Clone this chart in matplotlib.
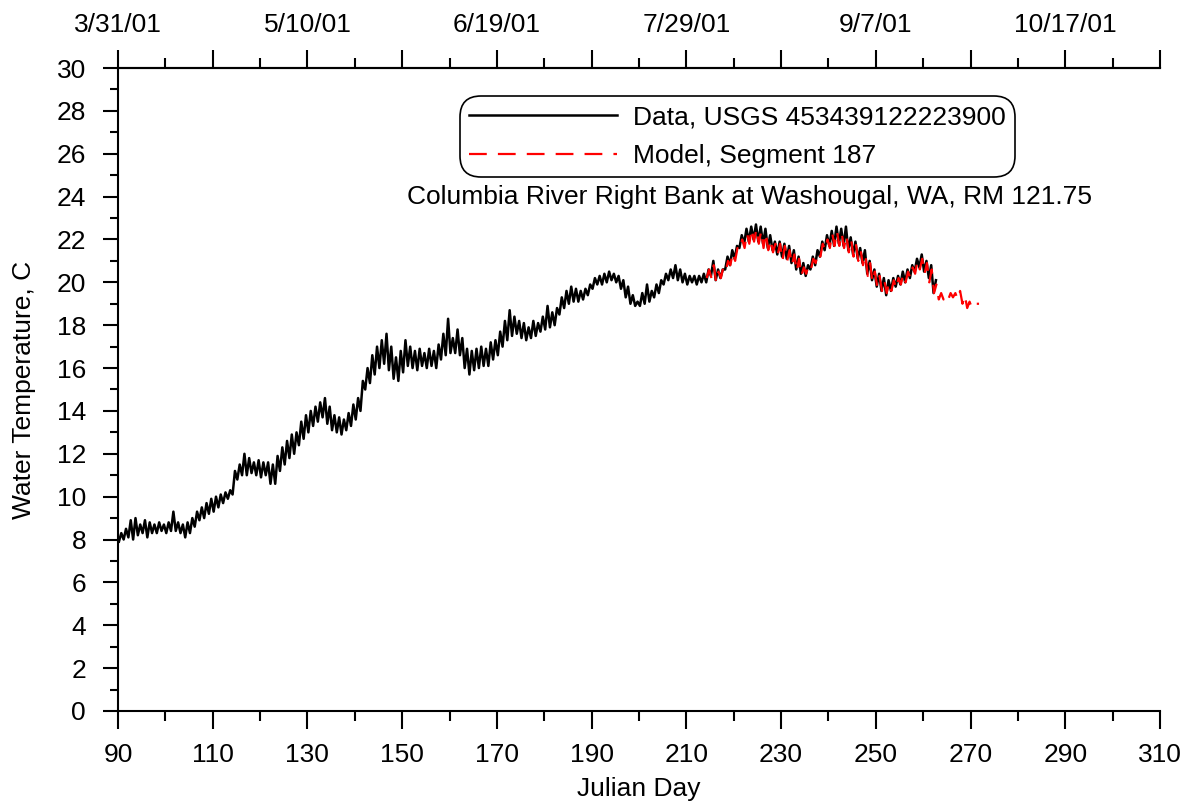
import numpy as np
import matplotlib
matplotlib.use("Agg")
import matplotlib.pyplot as plt
from matplotlib.ticker import FixedLocator, MultipleLocator

plt.rcParams['font.family'] = ['Liberation Sans', 'DejaVu Sans']

# observed data, daily low / high (Julian day 90 .. 262)
data_start = 90
data_lo = [7.9, 8.0, 8.1, 8.0, 8.2, 8.3, 8.1, 8.3, 8.3, 8.4,
           8.3, 8.4, 8.4, 8.3, 8.1, 8.3, 8.6, 8.9, 9.0, 9.2,
           9.3, 9.5, 9.7, 9.9, 10.1, 10.8, 11.0, 11.0, 11.1, 11.0,
           10.9, 11.0, 10.6, 10.6, 11.2, 11.5, 11.8, 12.0, 12.4, 12.7,
           13.0, 13.3, 13.5, 13.7, 13.4, 13.1, 13.0, 12.9, 13.1, 13.3,
           13.6, 14.0, 15.0, 15.3, 15.7, 16.0, 16.2, 15.9, 15.5, 15.4,
           15.8, 16.1, 16.0, 15.9, 16.1, 16.0, 16.1, 16.0, 16.4, 16.6,
           16.7, 16.7, 16.6, 16.0, 15.7, 15.9, 16.0, 16.1, 16.1, 16.4,
           16.6, 17.0, 17.3, 17.5, 17.6, 17.4, 17.3, 17.4, 17.5, 17.7,
           17.8, 17.9, 18.0, 18.5, 18.8, 19.0, 19.1, 19.1, 19.2, 19.4,
           19.7, 19.9, 19.9, 20.0, 20.1, 20.0, 19.7, 19.3, 19.0, 18.9,
           18.9, 19.0, 19.1, 19.3, 19.5, 19.9, 20.1, 20.2, 20.1, 20.0,
           19.9, 20.0, 19.9, 20.0, 20.0, 20.3, 20.1, 20.2, 20.6, 20.8,
           21.1, 21.6, 21.8, 21.9, 22.0, 21.9, 21.8, 21.6, 21.5, 21.3,
           21.2, 21.1, 20.9, 20.6, 20.4, 20.3, 20.6, 20.8, 21.2, 21.5,
           21.7, 21.7, 21.8, 21.7, 21.5, 21.3, 21.1, 20.9, 20.4, 20.1,
           19.8, 19.6, 19.4, 19.6, 19.8, 19.9, 20.0, 20.2, 20.5, 20.7,
           20.5, 20.2, 19.5]
data_hi = [8.3, 8.5, 8.9, 9.0, 8.7, 8.9, 8.8, 8.7, 8.8, 8.7,
           8.8, 9.3, 8.8, 8.7, 8.8, 9.0, 9.3, 9.5, 9.7, 9.9,
           10.0, 10.1, 10.2, 10.3, 11.2, 11.5, 12.0, 11.8, 11.6, 11.7,
           11.6, 11.6, 11.5, 11.9, 12.3, 12.6, 12.9, 13.0, 13.5, 13.8,
           14.0, 14.2, 14.4, 14.6, 14.2, 13.8, 13.7, 13.6, 13.9, 14.3,
           14.6, 15.4, 16.0, 16.6, 17.0, 17.3, 17.6, 17.0, 16.5, 16.8,
           17.3, 17.0, 16.8, 16.9, 16.7, 16.9, 16.8, 17.1, 17.6, 18.3,
           17.4, 17.8, 17.4, 16.9, 16.8, 16.9, 17.0, 16.9, 17.2, 17.3,
           17.7, 18.2, 18.7, 18.4, 18.2, 18.1, 17.9, 18.2, 18.1, 18.4,
           18.9, 18.6, 18.8, 19.3, 19.6, 19.8, 19.7, 19.6, 19.7, 19.9,
           20.2, 20.3, 20.4, 20.5, 20.4, 20.3, 20.1, 19.8, 19.4, 19.1,
           19.5, 19.9, 19.6, 19.9, 20.1, 20.4, 20.6, 20.8, 20.6, 20.4,
           20.3, 20.3, 20.3, 20.4, 20.6, 21.0, 20.6, 20.6, 21.2, 21.5,
           21.7, 22.2, 22.5, 22.6, 22.7, 22.6, 22.5, 22.2, 21.9, 21.9,
           21.8, 21.7, 21.5, 21.2, 20.9, 20.8, 21.2, 21.5, 21.9, 22.2,
           22.4, 22.6, 22.5, 22.6, 22.1, 21.9, 21.6, 21.5, 21.0, 20.6,
           20.4, 20.2, 20.1, 20.2, 20.3, 20.5, 20.6, 20.8, 21.1, 21.3,
           21.0, 20.8, 20.1]

# model, segment 187, daily low / high (Julian day 214 .. 271)
model_start = 214
model_lo = [20.2, 20.2, 20.0, 20.2, 20.5, 20.8,
            21.0, 21.5, 21.6, 21.8, 21.9, 21.8, 21.6, 21.5, 21.4, 21.3,
            21.0, 21.0, 20.8, 20.5, 20.3, 20.4, 20.6, 20.9, 21.2, 21.5,
            21.6, 21.7, 21.7, 21.6, 21.4, 21.2, 21.0, 20.8, 20.3, 20.0,
            19.8, 19.6, 19.5, 19.6, 19.7, 19.9, 20.0, 20.2, 20.4, 20.6,
            20.4, 20.0, 19.5, 19.2, 19.2, 19.2, 19.3, 19.2, 19.0, 18.8,
            18.8, 19.0]
model_hi = [20.6, 20.8, 20.5, 20.7, 21.0, 21.4,
            21.6, 22.0, 22.3, 22.5, 22.5, 22.4, 22.3, 22.0, 21.8, 21.8,
            21.7, 21.5, 21.3, 21.1, 20.7, 20.8, 21.1, 21.4, 21.8, 22.0,
            22.3, 22.4, 22.3, 22.2, 22.0, 21.8, 21.5, 21.3, 20.9, 20.5,
            20.3, 20.1, 20.0, 20.1, 20.2, 20.4, 20.5, 20.7, 21.0, 21.1,
            20.9, 20.6, 19.9, 19.5, 19.4, 19.5, 19.5, 19.6, 19.4, 19.1,
            19.0, 19.0]

bottom_ticks = [90, 110, 130, 150, 170, 190, 210, 230, 250, 270, 290, 310]
minor_ticks = [100, 120, 140, 160, 180, 200, 220, 240, 260, 280, 300]
top_labels = ['3/31/01', '', '5/10/01', '', '6/19/01', '', '7/29/01', '',
              '9/7/01', '', '10/17/01', '']

FS = 19


def zigzag(start, lo, hi, lo_off, hi_off):
    d = start + np.arange(len(lo))
    t = np.column_stack([d + lo_off, d + hi_off]).ravel()
    v = np.column_stack([lo, hi]).ravel()
    return t, v


fig = plt.figure(figsize=(11.94, 8.06), dpi=100)
ax = fig.add_axes([0.0988, 0.1179, 0.8727, 0.7977])

t, v = zigzag(data_start, data_lo, data_hi, 0.2, 0.7)
ax.plot(t, v, color='black', lw=1.8, label='Data, USGS 453439122223900')
t, v = zigzag(model_start, model_lo, model_hi, 0.3, 0.8)
ax.plot(t, v, color='red', lw=1.6, linestyle=(0, (8, 5)), label='Model, Segment 187')

ax.set_xlim(90, 310)
ax.set_ylim(0, 30)
ax.xaxis.set_major_locator(FixedLocator(bottom_ticks))
ax.xaxis.set_minor_locator(FixedLocator(minor_ticks))
ax.yaxis.set_major_locator(MultipleLocator(2))
ax.yaxis.set_minor_locator(MultipleLocator(1))
ax.spines['right'].set_visible(False)
for s in ['left', 'bottom', 'top']:
    ax.spines[s].set_linewidth(1.5)

ax.tick_params(axis='x', which='major', direction='out', length=13, width=1.5,
               labelsize=FS, pad=10)
ax.tick_params(axis='x', which='minor', direction='out', length=7, width=1.5)
ax.tick_params(axis='y', which='major', direction='out', length=11, width=1.5,
               labelsize=FS, pad=12)
ax.tick_params(axis='y', which='minor', direction='out', length=5.5, width=1.5)

top = ax.secondary_xaxis('top')
top.set_xticks(bottom_ticks, top_labels)
top.xaxis.set_minor_locator(FixedLocator(minor_ticks))
top.spines['top'].set_linewidth(1.5)
top.tick_params(axis='x', which='major', direction='out', length=13, width=1.5,
                labelsize=FS, pad=9)
top.tick_params(axis='x', which='minor', direction='out', length=7, width=1.5)

ax.set_xlabel('Julian Day', fontsize=FS, labelpad=7)
ax.set_ylabel('Water Temperature, C', fontsize=FS, labelpad=15)

leg = ax.legend(loc='upper left', bbox_to_anchor=(0.3307, 0.952), fontsize=FS,
                handlelength=5.6, handletextpad=0.6, borderpad=0.25,
                labelspacing=0.55, borderaxespad=0, framealpha=1, fancybox=True)
leg.get_frame().set_edgecolor('black')
leg.get_frame().set_linewidth(1.2)
leg.get_frame().set_boxstyle('round', pad=0.1, rounding_size=0.8)

ax.text(0.6065, 0.799, 'Columbia River Right Bank at Washougal, WA, RM 121.75',
        transform=ax.transAxes, ha='center', va='center', fontsize=FS)

fig.savefig('out.png', dpi=100)
